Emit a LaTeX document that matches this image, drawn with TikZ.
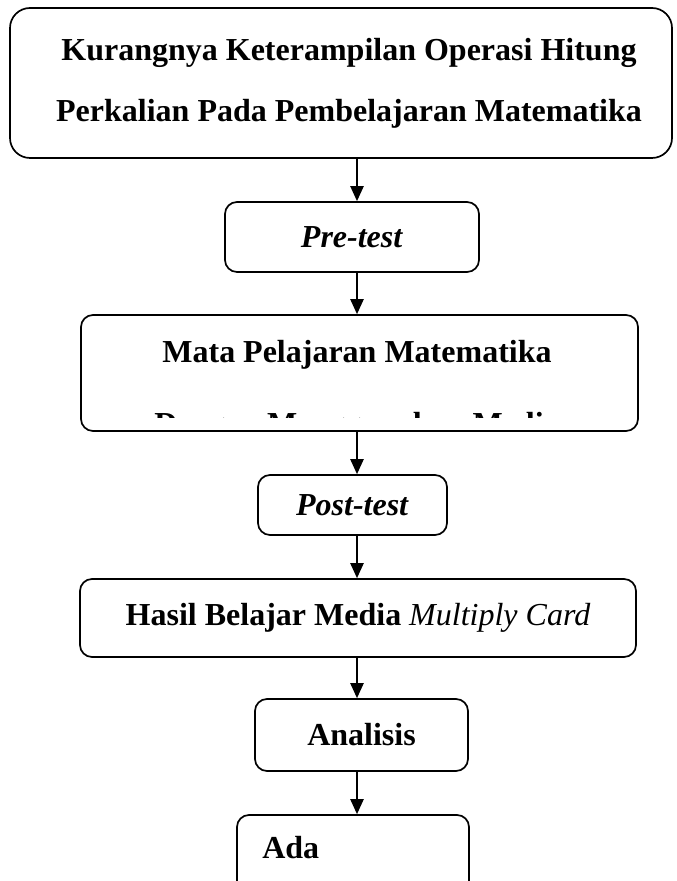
\documentclass[tikz,border=0pt]{standalone}
\usepackage{fontspec}
\setmainfont{Liberation Serif}
\usepackage{tikz}
\usetikzlibrary{arrows.meta}
\usetikzlibrary{shapes,positioning}
\tikzset{>={Triangle[length=0.375cm,width=0.33cm]}}

\begin{document}
\begin{tikzpicture}[line cap=round,
    kotak/.style={draw, line width=1.2pt, rounded corners=0.3cm, inner sep=0pt},
    teks/.style={font=\fontsize{22.76}{43.4}\selectfont\bfseries, align=center},
    panah/.style={->, line width=1.2pt}]

    \clip (0,0) rectangle (16.925,22.025);

    \node [kotak, rounded corners=0.5cm, minimum width=16.55cm, minimum height=3.75cm] (masalah) at (8.525,19.95) {};
    \node [teks] (masalahteks) at (8.725,19.95)
        {Kurangnya Keterampilan Operasi Hitung\\Perkalian Pada Pembelajaran Matematika};

    \node [kotak, teks, minimum width=6.35cm, minimum height=1.75cm] (pre) at (8.8,16.1) {\textit{Pre-test}};

    \node [kotak, minimum width=13.925cm, minimum height=2.9cm] (mata) at (8.9875,12.7) {};
    \begin{scope}
        \clip (mata.north west) rectangle (16.925,11.575);
        \node [teks, font=\fontsize{22.76}{51.2}\selectfont\bfseries] (mapel) at (8.925,12.2625)
            {Mata Pelajaran Matematika\\Dengan Menggunakan Media};
    \end{scope}

    \node [kotak, teks, minimum width=4.725cm, minimum height=1.5cm] (post) at (8.8125,9.4) {\textit{Post-test}};

    \node [kotak, teks, minimum width=13.9cm, minimum height=1.95cm] (hasil) at (8.95,6.575)
        {Hasil Belajar Media {\normalfont\itshape Multiply Card}};

    \node [kotak, teks, minimum width=5.325cm, minimum height=1.8cm] (analisis) at (9.0375,3.65) {Analisis};

    \node [kotak, minimum width=5.8cm, minimum height=2.125cm] (ada) at (8.825,0.5875) {};
    \node [teks, anchor=base west, inner sep=0pt] (adateks) at (6.55,0.575) {Ada};

    % panah
    \coordinate (ax) at (8.925,0);
    \draw [panah] (masalah.south -| ax) -- (pre.north -| ax);
    \draw [panah] (pre.south -| ax) -- (mata.north -| ax);
    \draw [panah] (mata.south -| ax) -- (post.north -| ax);
    \draw [panah] (post.south -| ax) -- (hasil.north -| ax);
    \draw [panah] (hasil.south -| ax) -- (analisis.north -| ax);
    \draw [panah] (analisis.south -| ax) -- (ada.north -| ax);

\end{tikzpicture}
\end{document}
